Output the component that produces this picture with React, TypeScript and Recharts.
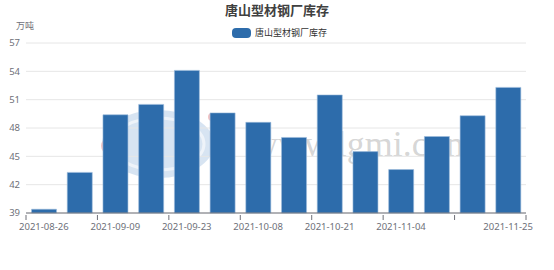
import { BarChart, Bar, XAxis, YAxis, CartesianGrid } from "recharts"

const TITLE = "唐山型材钢厂库存"
const UNIT = "万吨"

const dates = [
  "2021-08-26",
  "2021-09-02",
  "2021-09-09",
  "2021-09-16",
  "2021-09-23",
  "2021-09-30",
  "2021-10-08",
  "2021-10-14",
  "2021-10-21",
  "2021-10-28",
  "2021-11-04",
  "2021-11-11",
  "2021-11-18",
  "2021-11-25",
]
const stock = [39.4, 43.3, 49.4, 50.5, 54.1, 49.6, 48.6, 47.0, 51.5, 45.5, 43.6, 47.1, 49.3, 52.3]
const yTicks = [39, 42, 45, 48, 51, 54, 57]
const shownLabels = ["2021-08-26", "2021-09-09", "2021-09-23", "2021-10-08", "2021-10-21", "2021-11-04", "2021-11-25"]

const data = dates.map((d, i) => ({ date: d, value: stock[i] }))

const W = 554
const H = 270
const LEFT = 26
const RIGHT = 28
const TOP = 43
const BOTTOM = 57
const BAND = (W - LEFT - RIGHT) / dates.length
const FONT = '"Noto Sans", "Noto Sans CJK SC", sans-serif'

function DateTick(props: any) {
  const { x, y, payload, index } = props
  const last = index === dates.length - 1
  return (
    <g>
      {index % 2 === 0 && (
        <line x1={x - BAND / 2} x2={x - BAND / 2} y1={y} y2={y + 5} stroke="#6e7079" />
      )}
      {last && <line x1={x + BAND / 2} x2={x + BAND / 2} y1={y} y2={y + 5} stroke="#6e7079" />}
      {shownLabels.includes(payload.value) && (
        <text x={x} y={y + 15} textAnchor="middle" fontSize={9.5} fill="#6e7079" fontFamily={FONT}>
          {payload.value}
        </text>
      )}
    </g>
  )
}

export default function App() {
  return (
    <div style={{ position: "absolute", left: 0, top: 0, width: W, height: H, background: "#fff", fontFamily: FONT }}>
      {/* faint watermark behind the chart */}
      <svg width={W} height={H} style={{ position: "absolute", left: 0, top: 0 }}>
        <ellipse cx={158} cy={144} rx={56} ry={34} fill="#c9dbee" opacity={0.75} />
        <ellipse cx={158} cy={144} rx={46} ry={26} fill="none" stroke="#eef3f9" strokeWidth={3} />
        <circle cx={110} cy={146} r={9} fill="#f0b4b4" opacity={0.8} />
        <circle cx={212} cy={117} r={4} fill="#f0b4b4" opacity={0.8} />
      </svg>
      <div
        style={{
          position: "absolute",
          left: 252,
          top: 124,
          fontFamily: '"Liberation Serif", serif',
          fontSize: 36,
          color: "rgba(150,150,150,0.4)",
          lineHeight: "40px",
          whiteSpace: "nowrap",
        }}
      >
        www.lgmi.com
      </div>
      <div
        style={{
          position: "absolute",
          left: 0,
          width: W,
          top: 1,
          textAlign: "center",
          fontSize: 13,
          fontWeight: "bold",
          color: "#404040",
          lineHeight: "18px",
        }}
      >
        {TITLE}
      </div>
      <div style={{ position: "absolute", left: 232, top: 26, display: "flex", alignItems: "center", gap: 4 }}>
        <span style={{ width: 19, height: 10, borderRadius: 4, background: "#2d6cab", display: "inline-block" }} />
        <span style={{ fontSize: 9, color: "#333", lineHeight: "14px" }}>{TITLE}</span>
      </div>
      <div style={{ position: "absolute", left: 16, top: 20, fontSize: 9, color: "#6e7079", lineHeight: "12px" }}>
        {UNIT}
      </div>
      <div style={{ position: "absolute", left: 0, top: 0 }}>
        <BarChart
          width={W}
          height={H}
          data={data}
          margin={{ top: TOP, right: RIGHT, bottom: 0, left: 0 }}
          barCategoryGap="15.5%"
        >
          <CartesianGrid vertical={false} stroke="#e6e6e6" />
          <YAxis
            width={LEFT}
            domain={[39, 57]}
            ticks={yTicks}
            axisLine={false}
            tickLine={false}
            tickSize={0}
            tickMargin={6}
            tick={{ fontSize: 9.5, fill: "#6e7079", fontFamily: FONT }}
          />
          <XAxis
            dataKey="date"
            height={BOTTOM}
            interval={0}
            tickLine={false}
            tickSize={0}
            axisLine={{ stroke: "#6e7079" }}
            tick={<DateTick />}
          />
          <Bar dataKey="value" fill="#2d6cab" stroke="#9dbcdc" strokeWidth={0.6} isAnimationActive={false} />
        </BarChart>
      </div>
    </div>
  )
}
